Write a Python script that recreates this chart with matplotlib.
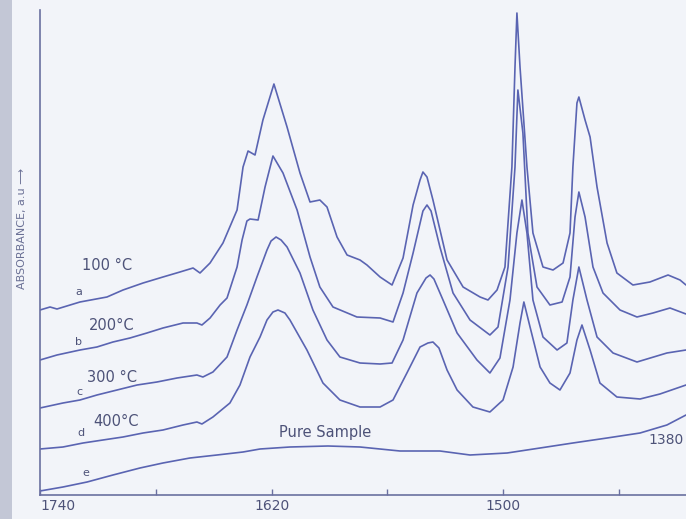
import matplotlib
matplotlib.use("Agg")
import matplotlib.pyplot as plt
from matplotlib.patches import Rectangle

# ---- data (wavenumber in cm^-1, absorbance in a.u., curves offset as drawn) ----
wn_a = [1740.0, 1734.8, 1731.2, 1719.3, 1705.3, 1697.0, 1686.6, 1676.3, 1667.5, 1660.7, 1657.1, 1651.9,
        1645.2, 1637.9, 1634.8, 1632.2, 1628.6, 1624.5, 1618.8, 1612.0, 1605.3, 1600.1, 1595.0, 1591.3,
        1586.1, 1580.9, 1574.2, 1570.6, 1563.8, 1557.6, 1551.9, 1546.7, 1543.1, 1541.6, 1539.5, 1536.4, 1529.1,
        1520.8, 1512.0, 1507.9, 1503.2, 1499.1, 1495.5, 1493.9, 1492.9, 1491.3, 1487.7, 1484.6, 1479.4,
        1474.2, 1469.0, 1465.4, 1463.9, 1461.8, 1460.8, 1457.6, 1455.0, 1451.4, 1446.2, 1441.1, 1432.8,
        1424.0, 1414.6, 1408.4, 1405.3]
abs_a = [1.85, 1.88, 1.86, 1.93, 1.98, 2.05, 2.12, 2.18, 2.23, 2.27, 2.22, 2.32,
         2.52, 2.85, 3.28, 3.44, 3.40, 3.75, 4.11, 3.68, 3.22, 2.93, 2.95, 2.88,
         2.58, 2.40, 2.35, 2.30, 2.18, 2.10, 2.37, 2.90, 3.15, 3.23, 3.18, 2.95, 2.35,
         2.08, 1.98, 1.95, 2.05, 2.28, 3.28, 4.28, 4.82, 4.28, 3.28, 2.62, 2.28,
         2.25, 2.32, 2.62, 3.28, 3.92, 3.98, 3.75, 3.58, 3.08, 2.52, 2.22, 2.10,
         2.13, 2.20, 2.15, 2.10]

wn_b = [1740.0, 1731.2, 1719.3, 1710.5, 1702.2, 1693.4, 1684.6, 1676.3, 1665.9, 1658.7, 1656.1, 1651.9,
        1646.7, 1643.1, 1637.9, 1635.3, 1632.8, 1631.2, 1627.0, 1623.4, 1619.3, 1614.1, 1606.8, 1600.1,
        1595.0, 1588.2, 1575.8, 1563.8, 1557.1, 1551.9, 1546.7, 1541.6, 1539.5, 1537.4, 1532.8, 1526.0, 1517.2, 1506.9,
        1502.7, 1497.5, 1493.9, 1492.4, 1489.8, 1487.2, 1482.5, 1475.8, 1469.5, 1465.4, 1462.8, 1460.8,
        1457.6, 1453.5, 1448.3, 1439.5, 1430.7, 1422.4, 1413.6, 1405.3]
abs_b = [1.35, 1.40, 1.45, 1.48, 1.53, 1.57, 1.62, 1.67, 1.72, 1.72, 1.70, 1.77,
         1.90, 1.97, 2.28, 2.55, 2.74, 2.76, 2.75, 3.08, 3.39, 3.22, 2.85, 2.38,
         2.08, 1.88, 1.78, 1.77, 1.73, 2.02, 2.42, 2.84, 2.90, 2.84, 2.48, 2.02, 1.75, 1.60,
         1.68, 2.28, 3.28, 4.05, 3.62, 2.62, 2.08, 1.90, 1.93, 2.18, 2.78, 3.03,
         2.78, 2.28, 2.02, 1.85, 1.78, 1.82, 1.87, 1.81]

wn_c = [1740.0, 1728.1, 1719.3, 1710.5, 1700.1, 1689.7, 1679.4, 1669.0, 1658.7, 1655.6, 1650.4, 1643.1,
        1637.9, 1632.8, 1627.6, 1622.4, 1620.3, 1617.7, 1615.1, 1612.0, 1605.3, 1598.6, 1591.3, 1584.6, 1574.2, 1563.8,
        1557.6, 1551.9, 1544.7, 1540.0, 1537.9, 1535.9, 1531.2, 1523.9, 1513.6, 1506.9, 1501.7, 1496.5, 1492.9, 1490.3,
        1487.7, 1484.6, 1479.4, 1472.1, 1467.0, 1463.9, 1460.8, 1456.6, 1451.4, 1443.1, 1430.7, 1415.2,
        1405.3]
abs_c = [0.87, 0.92, 0.95, 1.00, 1.05, 1.10, 1.13, 1.17, 1.20, 1.18, 1.23, 1.38,
         1.65, 1.90, 2.18, 2.45, 2.54, 2.58, 2.55, 2.48, 2.22, 1.85, 1.55, 1.38, 1.32, 1.31,
         1.32, 1.55, 2.02, 2.17, 2.20, 2.16, 1.95, 1.62, 1.35, 1.22, 1.37, 1.95, 2.62, 2.95,
         2.62, 1.95, 1.58, 1.45, 1.52, 1.95, 2.28, 1.95, 1.58, 1.42, 1.33, 1.42,
         1.45]

wn_d = [1740.0, 1728.1, 1717.7, 1707.4, 1697.0, 1686.6, 1676.3, 1665.9, 1658.7, 1656.1, 1650.4, 1641.6,
        1636.4, 1631.2, 1626.0, 1622.4, 1619.3, 1616.7, 1613.1, 1610.5, 1601.7, 1593.4, 1584.6, 1574.2, 1563.8, 1557.1,
        1549.9, 1543.1, 1539.0, 1536.4, 1533.3, 1529.1, 1523.9, 1515.7, 1506.9, 1500.1, 1494.9, 1491.3, 1489.3, 1486.1,
        1480.9, 1475.8, 1470.6, 1465.4, 1461.8, 1459.2, 1455.0, 1449.9, 1441.1, 1429.1, 1418.8, 1405.3]
abs_d = [0.46, 0.48, 0.52, 0.55, 0.58, 0.62, 0.65, 0.70, 0.73, 0.71, 0.78, 0.92,
         1.10, 1.38, 1.58, 1.75, 1.83, 1.85, 1.82, 1.75, 1.45, 1.12, 0.95, 0.88, 0.88, 0.95,
         1.22, 1.48, 1.52, 1.53, 1.47, 1.25, 1.05, 0.88, 0.83, 0.95, 1.28, 1.72, 1.93, 1.68,
         1.28, 1.12, 1.05, 1.22, 1.55, 1.70, 1.45, 1.12, 0.98, 0.96, 1.01, 1.10]

wn_e = [1740.0, 1728.1, 1715.6, 1702.2, 1688.2, 1676.3, 1662.3, 1648.3, 1634.8, 1626.0, 1610.5, 1590.8,
        1574.2, 1553.5, 1532.8, 1517.2, 1498.0, 1480.9, 1463.9, 1446.2, 1429.1, 1415.2, 1405.3]
abs_e = [0.04, 0.08, 0.13, 0.20, 0.27, 0.32, 0.37, 0.40, 0.43, 0.46, 0.48, 0.49,
         0.48, 0.44, 0.44, 0.40, 0.42, 0.47, 0.52, 0.57, 0.62, 0.70, 0.80]

curves = [(wn_a, abs_a), (wn_b, abs_b), (wn_c, abs_c), (wn_d, abs_d), (wn_e, abs_e)]
temp_labels = ["100 °C", "200°C", "300 °C", "400°C", "Pure Sample"]
letters = ["a", "b", "c", "d", "e"]
xticks = [1740, 1680, 1620, 1560, 1500, 1440]
xtick_labels = ["1740", "", "1620", "", "1500", ""]

# ---- styling ----
LINE = "#5a64b2"
TEXT = "#4d5278"
PAPER = "#f2f4f9"

fig = plt.figure(figsize=(6.86, 5.19), dpi=100, facecolor=PAPER)
fig.patches.append(Rectangle((0, 0), 12 / 686, 1, transform=fig.transFigure,
                             facecolor="#c3c7d6", edgecolor="none", zorder=0))
ax = fig.add_axes([40 / 686, 1 - 495 / 519, 1 - 40 / 686, (495 - 10) / 519])
ax.set_facecolor("none")

for wn, ab in curves:
    ax.plot(wn, ab, color=LINE, lw=1.2, solid_joinstyle="round", solid_capstyle="round")

ax.set_xlim(1740, 1405.3)
ax.set_ylim(0, 4.85)

for s in ["top", "right"]:
    ax.spines[s].set_visible(False)
for s in ["left", "bottom"]:
    ax.spines[s].set_color("#6a70a0")
    ax.spines[s].set_linewidth(1.2)

ax.set_yticks([])
ax.set_xticks(xticks)
ax.set_xticklabels(xtick_labels, fontsize=10, color=TEXT)
ax.tick_params(axis="x", direction="in", length=4, width=1, color="#6a70a0", pad=3)
lbls = ax.get_xticklabels()
lbls[0].set_horizontalalignment("left")
fig.text(684 / 686, 1 - 440 / 519, "1380", fontsize=10, color=TEXT, ha="right", va="center")

fig.text(22 / 686, 1 - 228 / 519, "ABSORBANCE, a.u ⟶", rotation=90, fontsize=8,
         color="#6a7095", ha="center", va="center")

# curve labels (positions in data coordinates)
label_pos = [(1705.0, 2.30), (1703.0, 1.70), (1702.5, 1.17), (1700.5, 0.73), (1592.5, 0.62)]
letter_pos = [(1719.8, 2.03), (1720.3, 1.53), (1719.8, 1.03), (1718.7, 0.62), (1716.1, 0.22)]
for (x, y), t in zip(label_pos, temp_labels):
    ax.text(x, y, t, fontsize=10.5, color=TEXT, ha="center", va="center")
for (x, y), t in zip(letter_pos, letters):
    ax.text(x, y, t, fontsize=8, color=TEXT, ha="center", va="center")

fig.savefig("out.png", dpi=100, facecolor=PAPER)
